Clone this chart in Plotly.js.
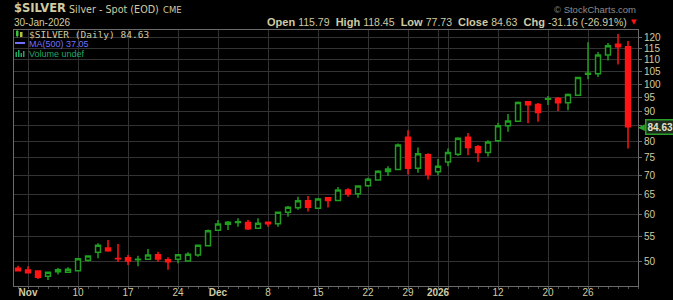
<!DOCTYPE html>
<html><head><meta charset="utf-8">
<script src="https://cdn.plot.ly/plotly-3.0.1.min.js"></script>
<style>html,body{margin:0;padding:0;background:#000;}#chart{width:673px;height:300px;}</style>
</head><body><div id="chart"></div>
<script>
const dates = ['2025-10-31','2025-11-03','2025-11-04','2025-11-05','2025-11-06','2025-11-07','2025-11-10','2025-11-11','2025-11-12','2025-11-13','2025-11-14','2025-11-17','2025-11-18','2025-11-19','2025-11-20','2025-11-21','2025-11-24','2025-11-25','2025-11-26','2025-11-28','2025-12-01','2025-12-02','2025-12-03','2025-12-04','2025-12-05','2025-12-08','2025-12-09','2025-12-10','2025-12-11','2025-12-12','2025-12-15','2025-12-16','2025-12-17','2025-12-18','2025-12-19','2025-12-22','2025-12-23','2025-12-24','2025-12-26','2025-12-29','2025-12-30','2025-12-31','2026-01-02','2026-01-05','2026-01-06','2026-01-07','2026-01-08','2026-01-09','2026-01-12','2026-01-13','2026-01-14','2026-01-15','2026-01-16','2026-01-20','2026-01-21','2026-01-22','2026-01-23','2026-01-26','2026-01-27','2026-01-28','2026-01-29','2026-01-30'];
const opens  = [48.13,48.27,48.08,47.09,48.30,47.83,48.13,50.14,51.74,52.62,50.50,50.65,50.25,50.33,51.25,50.26,50.33,50.00,51.19,53.10,56.38,57.75,58.15,58.15,56.85,58.20,57.85,60.52,61.60,63.33,61.50,64.10,63.40,66.05,65.10,67.17,68.70,71.04,71.60,81.20,71.90,75.85,70.95,73.70,76.00,81.20,78.25,76.55,80.10,85.00,86.45,93.40,92.40,94.50,94.60,93.00,95.80,104.40,104.15,112.20,117.00,115.79];
const highs  = [49.10,49.00,48.20,47.99,48.65,48.80,50.60,51.05,53.60,54.29,53.45,51.20,51.05,52.40,51.85,50.73,51.30,51.73,53.25,56.60,58.70,58.50,59.11,58.70,59.10,58.25,60.70,62.05,64.30,64.50,64.00,64.15,66.80,66.50,67.20,69.30,71.40,72.50,79.30,83.50,78.00,76.30,74.60,77.70,81.20,82.60,78.80,80.30,86.00,89.00,93.50,93.50,92.90,95.50,95.10,96.40,102.90,117.90,113.50,117.50,121.80,118.45];
const lows   = [48.00,47.70,46.60,46.40,47.40,47.70,48.00,49.86,50.53,51.86,49.80,49.20,49.00,50.30,49.86,48.30,49.55,49.95,50.85,52.90,56.30,56.45,57.20,56.45,56.75,57.20,57.20,59.50,61.10,60.70,61.30,61.70,63.33,64.30,64.10,66.90,68.50,69.80,71.40,70.20,70.70,68.80,70.00,72.50,75.50,75.70,73.70,75.30,79.70,83.00,86.20,85.80,86.30,92.20,90.00,90.30,95.50,102.00,102.90,109.80,108.10,77.73];
const closes = [48.59,47.76,46.90,47.83,47.95,48.40,50.45,50.99,53.17,52.07,50.42,50.00,50.35,51.19,50.40,49.86,51.25,51.33,53.17,56.31,57.81,58.20,58.30,56.75,57.95,57.85,60.52,61.72,63.33,61.72,63.77,63.40,66.05,65.02,67.10,68.88,71.12,71.70,78.80,71.90,76.15,70.20,72.50,76.55,80.90,78.00,76.55,79.70,85.00,86.60,93.10,92.30,89.50,94.30,93.00,96.10,102.70,104.00,112.20,116.30,115.79,84.63];
const priorClose = 48.70;
const maLabel = 'MA(500)';
const maValue = 37.05;
const yTickValues = [50,55,60,65,70,75,80,85,90,95,100,105,110,115,120];
const xTickDates  = ['2025-11-03','2025-11-10','2025-11-17','2025-11-24','2025-12-01','2025-12-08','2025-12-15','2025-12-22','2025-12-29','2026-01-02','2026-01-05','2026-01-12','2026-01-20','2026-01-26'];
const xTickLabels = ['<b>Nov</b>','10','17','24','<b>Dec</b>','8','15','22','29','<b>2026</b>','','12','20','26'];

const idx = dates.map((d,i)=>i);
const prev = closes.map((c,i)=> i===0 ? priorClose : closes[i-1]);
function pick(cond){
  const sel = idx.filter(cond);
  return {x: sel, open: sel.map(i=>opens[i]), high: sel.map(i=>highs[i]), low: sel.map(i=>lows[i]), close: sel.map(i=>closes[i])};
}
const G = '#1f9e1f', R = '#ff1414';
const up = pick(i => closes[i] >= prev[i]);
const dn = pick(i => closes[i] < prev[i]);
const traces = [
  Object.assign({type:'candlestick', name:'up', showlegend:false, hoverinfo:'skip', whiskerwidth:0,
    increasing:{line:{color:G,width:1.5}, fillcolor:'#000'},
    decreasing:{line:{color:G,width:1.5}, fillcolor:G}}, up),
  Object.assign({type:'candlestick', name:'dn', showlegend:false, hoverinfo:'skip', whiskerwidth:0,
    increasing:{line:{color:R,width:1.5}, fillcolor:'#000'},
    decreasing:{line:{color:R,width:1.5}, fillcolor:R}}, dn)
];

const L=14, T=30, W=624, H=256;
const px = p => (p-L)/W;
const py = q => (T+H-q)/H;
const tan = '#d0cba3';
const sans = 'Liberation Sans, Arial, sans-serif';
const n = closes.length-1;
const last = closes[n];
const chg = last - closes[n-1];
const chgPct = chg / closes[n-1] * 100;
const f2 = v => v.toFixed(2);
const hdr = '<b>Open</b> <span style="font-size:10.5px">'+f2(opens[n])+'</span>  <b>High</b> <span style="font-size:10.5px">'+f2(highs[n])+'</span>  <b>Low</b> <span style="font-size:10.5px">'+f2(lows[n])+'</span>  <b>Close</b> <span style="font-size:10.5px">'+f2(last)+'</span>  <b>Chg</b> <span style="font-size:10.5px">'+f2(chg)+' ('+f2(chgPct)+'%)</span>';
const d = new Date(dates[n]+'T00:00:00');
const mon = ['Jan','Feb','Mar','Apr','May','Jun','Jul','Aug','Sep','Oct','Nov','Dec'];
const dateText = String(d.getDate()).padStart(2,'0')+'-'+mon[d.getMonth()]+'-'+d.getFullYear();

function ann(text, x, y, opts){
  return Object.assign({text:text, xref:'paper', yref:'paper', x:px(x), y:py(y), xanchor:'left', yanchor:'middle', showarrow:false, font:{family:sans, size:10, color:tan}}, opts||{});
}
const annotations = [
  ann('<b>$SILVER</b>', 12, 8, {font:{family:'DejaVu Sans, sans-serif', size:11.5, color:tan}}),
  ann('Silver - Spot (EOD)', 67, 9, {font:{family:'DejaVu Sans, sans-serif', size:9.6, color:tan}}),
  ann('CME', 161, 9.5, {font:{family:'DejaVu Sans, sans-serif', size:8.5, color:tan}}),
  ann(dateText, 12, 22, {font:{family:sans, size:10, color:tan}}),
  ann(hdr, 629, 22, {xanchor:'right', font:{family:sans, size:11, color:tan}}),
  ann('▼', 634, 22, {xanchor:'center', font:{family:'DejaVu Sans, sans-serif', size:7, color:'#ff1414'}}),
  ann('© StockCharts.com', 638, 9, {xanchor:'right', font:{family:sans, size:9.5, color:'#8c8c8c'}}),
  ann('$SILVER (Daily) '+f2(last), 27, 34, {font:{family:'DejaVu Sans Mono, monospace', size:9.5, color:tan}}),
  ann(maLabel+' '+f2(maValue), 27, 44, {font:{family:sans, size:9, color:'#7070ff'}}),
  ann('Volume undef', 27, 54, {font:{family:sans, size:9, color:'#1ea864'}}),
  {text:'◀', xref:'paper', yref:'y', x:px(641.5), y:Math.log10(last), xanchor:'center', yanchor:'middle', showarrow:false, font:{family:'DejaVu Sans, sans-serif', size:9, color:'#2aa02a'}},
  {text:'<b>'+f2(last)+'</b>', xref:'paper', yref:'y', x:px(645), y:Math.log10(last), xanchor:'left', yanchor:'middle', showarrow:false,
   bgcolor:'#1e2a1e', bordercolor:'#2aa02a', borderwidth:1.5, borderpad:1, font:{family:sans, size:10, color:'#e6e2c6'}}
];
function rect(x0,y0,x1,y1,color){
  return {type:'rect', xref:'paper', yref:'paper', x0:px(x0), x1:px(x1), y0:py(y1), y1:py(y0), fillcolor:color, line:{width:0}, layer:'above'};
}
const shapes = [
  rect(16,31,18.5,36,'#3cc03c'), rect(20,32,22.5,37,'#b8c040'), {type:'line', xref:'paper', yref:'paper', x0:px(17.2), x1:px(17.2), y0:py(37.5), y1:py(30), line:{color:'#3cc03c',width:1}, layer:'above'},
  {type:'line', xref:'paper', yref:'paper', x0:px(15), x1:px(25), y0:py(43), y1:py(43), line:{color:'#7070ff',width:2}, layer:'above'},
  rect(15.5,52,17,57,'#1ea864'), rect(18,50,19.5,57,'#1ea864'), rect(20.5,53,22,57,'#1ea864'), rect(23,51,24.5,57,'#1ea864')
];

// the tick hidden behind the last-price box in the reference
const yTickText = yTickValues.map(v => Math.abs(Math.log(v/last)) < 0.03 ? '' : String(v));

const layout = {
  width:673, height:300,
  margin:{l:L, r:673-L-W, t:T, b:300-T-H, pad:0},
  paper_bgcolor:'#000', plot_bgcolor:'#000',
  showlegend:false,
  xaxis:{type:'linear', range:[-0.4, 62.0], rangeslider:{visible:false},
    tickmode:'array', tickvals:xTickDates.map(t=>dates.indexOf(t)), ticktext:xTickLabels,
    showgrid:true, gridcolor:'#333', gridwidth:1, zeroline:false,
    showline:true, linecolor:'#6a6a6a', linewidth:1, mirror:true,
    ticks:'outside', ticklen:2, tickcolor:'#6a6a6a', ticklabelstandoff:-5,
    minor:{tickmode:'linear', tick0:0, dtick:1, ticks:'outside', ticklen:2, tickcolor:'#555', showgrid:false},
    tickfont:{family:sans, size:10, color:tan}, fixedrange:true},
  yaxis:{type:'log', side:'right', range:[Math.log10(45.33), Math.log10(123.7)],
    tickmode:'array', tickvals:yTickValues, ticktext:yTickText,
    showgrid:true, gridcolor:'#333', gridwidth:1, zeroline:false,
    showline:true, linecolor:'#6a6a6a', linewidth:1, mirror:true,
    ticks:'outside', ticklen:3, tickcolor:'#6a6a6a',
    tickfont:{family:sans, size:10, color:tan}, fixedrange:true},
  annotations: annotations,
  shapes: shapes
};
Plotly.newPlot('chart', traces, layout, {displayModeBar:false, staticPlot:true});
</script>
</body></html>
